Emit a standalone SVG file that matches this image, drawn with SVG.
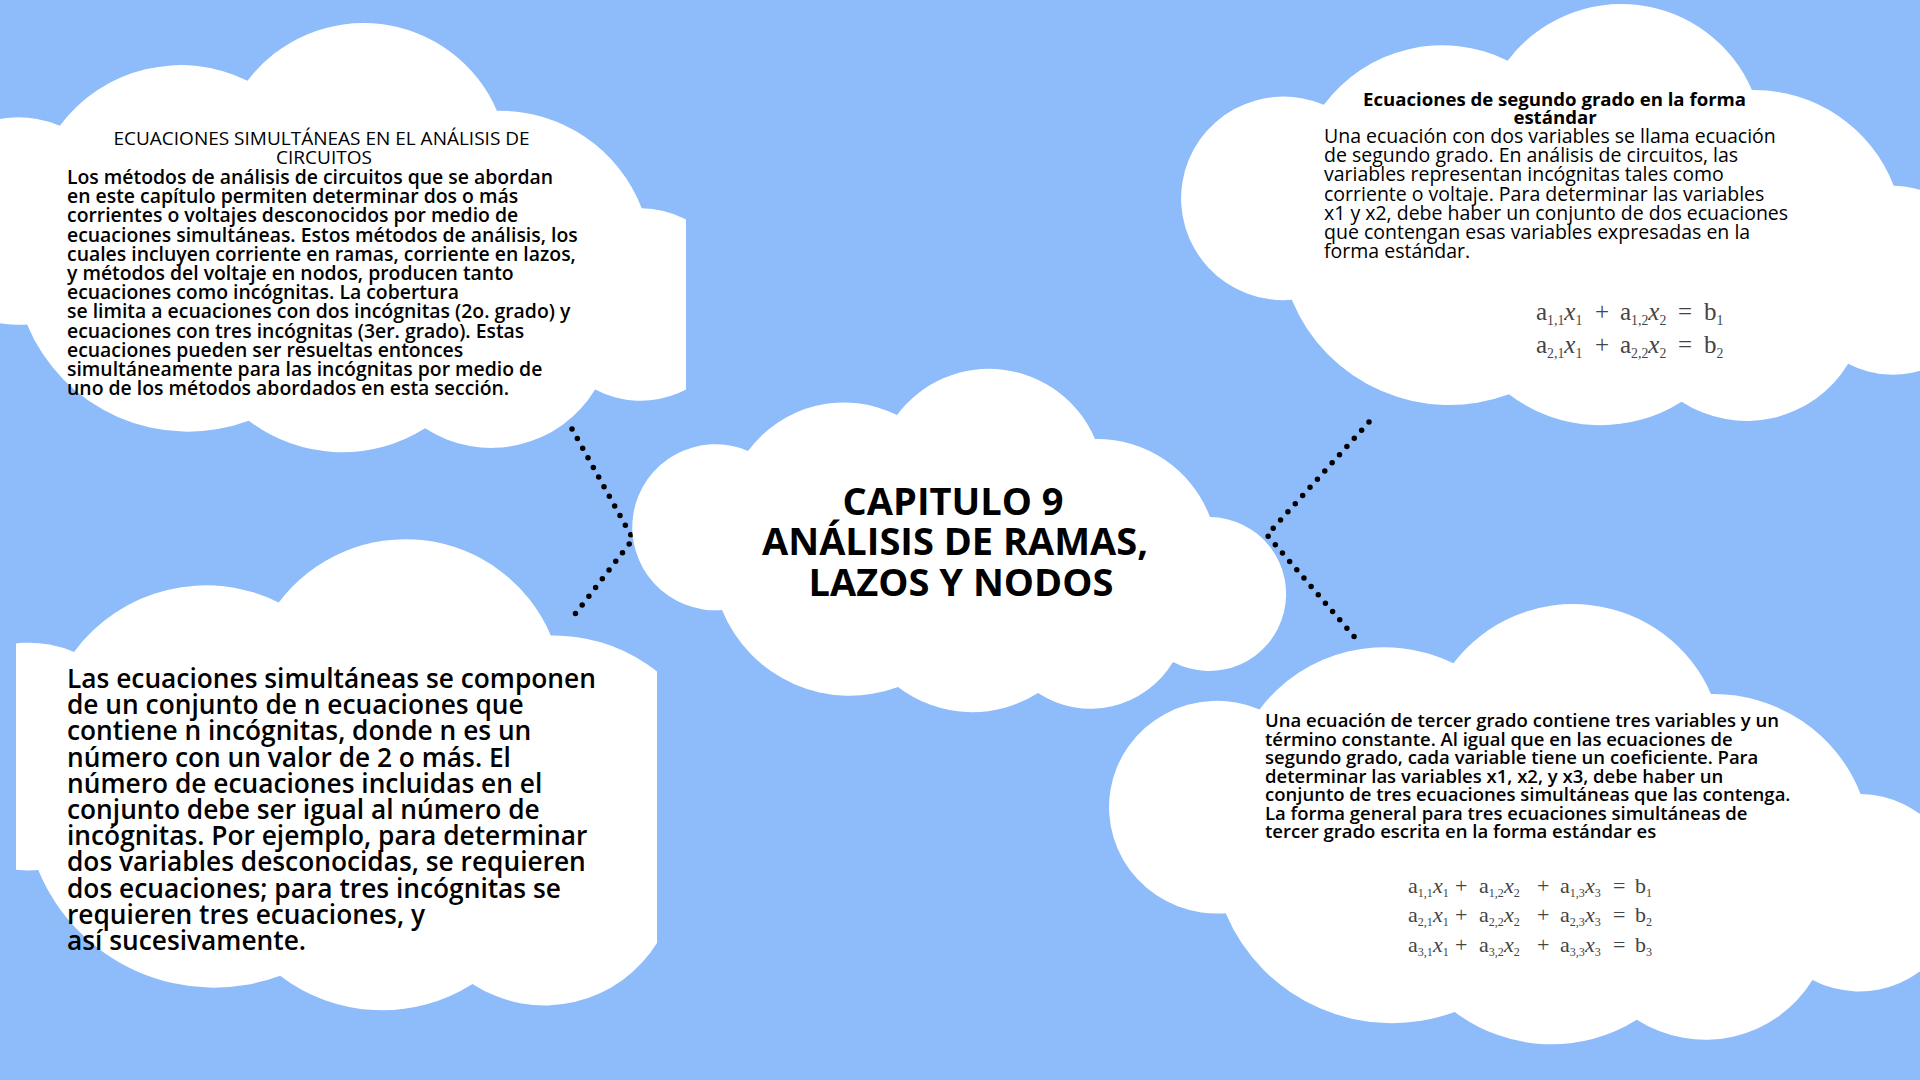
<svg xmlns="http://www.w3.org/2000/svg" xmlns:xlink="http://www.w3.org/1999/xlink" width="1920" height="1080" viewBox="0 0 1920 1080">
<style>
.cloud{fill:#ffffff}
.t{font-family:"Open Sans","Noto Sans",sans-serif;fill:#000}
.conn{fill:none;stroke:#000;stroke-width:5.5;stroke-linecap:round;stroke-linejoin:round;stroke-dasharray:0 11}
.eq{font-family:"Liberation Serif","Times New Roman",serif;fill:#444}
.s{font-size:0.55em}
.v{font-style:italic}
</style>
<defs>
<path id="cloud" d="M 89 242 A 83 83 0 1 1 115 83 A 119 119 0 0 1 264 47 A 115 115 0 0 1 462 71 A 121 121 0 0 1 577 149 A 77 77 0 1 1 540 294 A 96 96 0 0 1 405 325 A 122 122 0 0 1 265 319 A 138 138 0 0 1 89 242 Z"/>
<clipPath id="clipTL"><rect x="0" y="0" width="686" height="1080"/></clipPath>
<clipPath id="clipBL"><rect x="16" y="0" width="641" height="1080"/></clipPath>
</defs>
<rect x="0" y="0" width="1920" height="1080" fill="#8EBBF9"/>

<g id="connectors">
<polyline class="conn" points="572,429 633,539 569,622"/>
<polyline class="conn" points="1369,422 1267,535 1357,640"/>
</g>

<g id="node-center">
<use href="#cloud" class="cloud" transform="translate(633,368)"/>
<text class="t" font-size="38" font-weight="700" text-anchor="middle">
<tspan x="958" y="515">CAPITULO 9</tspan>
<tspan x="960" y="555">ANÁLISIS DE RAMAS,</tspan>
<tspan x="961" y="596">LAZOS Y NODOS</tspan>
</text>
</g>

<g id="node-top-left">
<g clip-path="url(#clipTL)"><use href="#cloud" class="cloud" transform="translate(-85,22) scale(1.2595,1.25)"/></g>
<text class="t" font-size="19" text-anchor="middle">
<tspan x="324" y="145">ECUACIONES SIMULTÁNEAS EN EL ANÁLISIS DE</tspan>
<tspan x="324" y="164">CIRCUITOS</tspan>
</text>
<text class="t" font-size="19.4" font-weight="600">
<tspan x="67" y="184">Los métodos de análisis de circuitos que se abordan</tspan>
<tspan x="67" y="203.2">en este capítulo permiten determinar dos o más</tspan>
<tspan x="67" y="222.4">corrientes o voltajes desconocidos por medio de</tspan>
<tspan x="67" y="241.6">ecuaciones simultáneas. Estos métodos de análisis, los</tspan>
<tspan x="67" y="260.8">cuales incluyen corriente en ramas, corriente en lazos,</tspan>
<tspan x="67" y="280">y métodos del voltaje en nodos, producen tanto</tspan>
<tspan x="67" y="299.2">ecuaciones como incógnitas. La cobertura</tspan>
<tspan x="67" y="318.4">se limita a ecuaciones con dos incógnitas (2o. grado) y</tspan>
<tspan x="67" y="337.6">ecuaciones con tres incógnitas (3er. grado). Estas</tspan>
<tspan x="67" y="356.8">ecuaciones pueden ser resueltas entonces</tspan>
<tspan x="67" y="376">simultáneamente para las incógnitas por medio de</tspan>
<tspan x="67" y="395.2">uno de los métodos abordados en esta sección.</tspan>
</text>
</g>

<g id="node-top-right">
<use href="#cloud" class="cloud" transform="translate(1182,3) scale(1.2336,1.2267)"/>
<text class="t" font-size="18.6" font-weight="700" text-anchor="middle">
<tspan x="1557" y="106">Ecuaciones de segundo grado en la forma</tspan>
<tspan x="1555" y="124">estándar</tspan>
</text>
<text class="t" font-size="19.5" font-weight="500">
<tspan x="1324" y="143">Una ecuación con dos variables se llama ecuación</tspan>
<tspan x="1324" y="162.2">de segundo grado. En análisis de circuitos, las</tspan>
<tspan x="1324" y="181.4">variables representan incógnitas tales como</tspan>
<tspan x="1324" y="200.6">corriente o voltaje. Para determinar las variables</tspan>
<tspan x="1324" y="219.8">x1 y x2, debe haber un conjunto de dos ecuaciones</tspan>
<tspan x="1324" y="239">que contengan esas variables expresadas en la</tspan>
<tspan x="1324" y="258.2">forma estándar.</tspan>
</text>
<text class="eq" font-size="25" y="320"><tspan x="1536">a</tspan><tspan class="s" dy="5">1,1</tspan><tspan class="v" dy="-5">x</tspan><tspan class="s" dy="5">1</tspan><tspan x="1595" dy="-5">+</tspan><tspan x="1620">a</tspan><tspan class="s" dy="5">1,2</tspan><tspan class="v" dy="-5">x</tspan><tspan class="s" dy="5">2</tspan><tspan x="1678" dy="-5">=</tspan><tspan x="1704">b</tspan><tspan class="s" dy="5">1</tspan></text>
<text class="eq" font-size="25" y="353"><tspan x="1536">a</tspan><tspan class="s" dy="5">2,1</tspan><tspan class="v" dy="-5">x</tspan><tspan class="s" dy="5">1</tspan><tspan x="1595" dy="-5">+</tspan><tspan x="1620">a</tspan><tspan class="s" dy="5">2,2</tspan><tspan class="v" dy="-5">x</tspan><tspan class="s" dy="5">2</tspan><tspan x="1678" dy="-5">=</tspan><tspan x="1704">b</tspan><tspan class="s" dy="5">2</tspan></text>
</g>

<g id="node-bottom-left">
<g clip-path="url(#clipBL)"><use href="#cloud" class="cloud" transform="translate(-84,538) scale(1.374,1.372)"/></g>
<text class="t" font-size="26.3" font-weight="600">
<tspan x="67" y="688">Las ecuaciones simultáneas se componen</tspan>
<tspan x="67" y="714.2">de un conjunto de n ecuaciones que</tspan>
<tspan x="67" y="740.4">contiene n incógnitas, donde n es un</tspan>
<tspan x="67" y="766.6">número con un valor de 2 o más. El</tspan>
<tspan x="67" y="792.8">número de ecuaciones incluidas en el</tspan>
<tspan x="67" y="819">conjunto debe ser igual al número de</tspan>
<tspan x="67" y="845.2">incógnitas. Por ejemplo, para determinar</tspan>
<tspan x="67" y="871.4">dos variables desconocidas, se requieren</tspan>
<tspan x="67" y="897.6">dos ecuaciones; para tres incógnitas se</tspan>
<tspan x="67" y="923.8">requieren tres ecuaciones, y</tspan>
<tspan x="67" y="950">así sucesivamente.</tspan>
</text>
</g>

<g id="node-bottom-right">
<use href="#cloud" class="cloud" transform="translate(1110,603) scale(1.3008,1.282)"/>
<text class="t" font-size="18.5" font-weight="600">
<tspan x="1265" y="727">Una ecuación de tercer grado contiene tres variables y un</tspan>
<tspan x="1265" y="745.5">término constante. Al igual que en las ecuaciones de</tspan>
<tspan x="1265" y="764">segundo grado, cada variable tiene un coeficiente. Para</tspan>
<tspan x="1265" y="782.5">determinar las variables x1, x2, y x3, debe haber un</tspan>
<tspan x="1265" y="801">conjunto de tres ecuaciones simultáneas que las contenga.</tspan>
<tspan x="1265" y="819.5">La forma general para tres ecuaciones simultáneas de</tspan>
<tspan x="1265" y="838">tercer grado escrita en la forma estándar es</tspan>
</text>
<text class="eq" font-size="22" y="893"><tspan x="1408">a</tspan><tspan class="s" dy="4">1,1</tspan><tspan class="v" dy="-4">x</tspan><tspan class="s" dy="4">1</tspan><tspan x="1455" dy="-4">+</tspan><tspan x="1479">a</tspan><tspan class="s" dy="4">1,2</tspan><tspan class="v" dy="-4">x</tspan><tspan class="s" dy="4">2</tspan><tspan x="1537" dy="-4">+</tspan><tspan x="1560">a</tspan><tspan class="s" dy="4">1,3</tspan><tspan class="v" dy="-4">x</tspan><tspan class="s" dy="4">3</tspan><tspan x="1613" dy="-4">=</tspan><tspan x="1635">b</tspan><tspan class="s" dy="4">1</tspan></text>
<text class="eq" font-size="22" y="922"><tspan x="1408">a</tspan><tspan class="s" dy="4">2,1</tspan><tspan class="v" dy="-4">x</tspan><tspan class="s" dy="4">1</tspan><tspan x="1455" dy="-4">+</tspan><tspan x="1479">a</tspan><tspan class="s" dy="4">2,2</tspan><tspan class="v" dy="-4">x</tspan><tspan class="s" dy="4">2</tspan><tspan x="1537" dy="-4">+</tspan><tspan x="1560">a</tspan><tspan class="s" dy="4">2,3</tspan><tspan class="v" dy="-4">x</tspan><tspan class="s" dy="4">3</tspan><tspan x="1613" dy="-4">=</tspan><tspan x="1635">b</tspan><tspan class="s" dy="4">2</tspan></text>
<text class="eq" font-size="22" y="952"><tspan x="1408">a</tspan><tspan class="s" dy="4">3,1</tspan><tspan class="v" dy="-4">x</tspan><tspan class="s" dy="4">1</tspan><tspan x="1455" dy="-4">+</tspan><tspan x="1479">a</tspan><tspan class="s" dy="4">3,2</tspan><tspan class="v" dy="-4">x</tspan><tspan class="s" dy="4">2</tspan><tspan x="1537" dy="-4">+</tspan><tspan x="1560">a</tspan><tspan class="s" dy="4">3,3</tspan><tspan class="v" dy="-4">x</tspan><tspan class="s" dy="4">3</tspan><tspan x="1613" dy="-4">=</tspan><tspan x="1635">b</tspan><tspan class="s" dy="4">3</tspan></text>
</g>
</svg>
